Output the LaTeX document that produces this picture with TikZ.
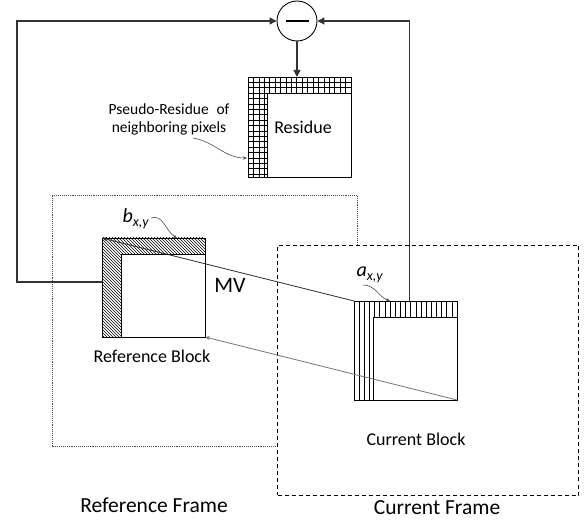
\documentclass[tikz,border=0pt]{standalone}
\usepackage{fontspec}
\setmainfont{Carlito}
\usetikzlibrary{positioning, patterns, arrows.meta}

\tikzset{
  blockbox/.style={draw, rectangle, line width=0.9pt, inner sep=0pt, outer sep=0pt, anchor=north west},
  feed/.style={line width=1.2pt, black!80},
  tip/.style={-{Triangle[length=7pt, width=7pt]}},
  lbl/.style={inner sep=0pt, anchor=base, font=\fontsize{18}{21}\selectfont},
  big/.style={inner sep=0pt, anchor=base, font=\fontsize{21.5}{24}\selectfont},
  pointer/.style={black!70, line width=0.6pt, -{Stealth[length=4pt, width=3.5pt]}},
}

\begin{document}
\begin{tikzpicture}[x=1pt, y=1pt]
    \useasboundingbox (0,0) rectangle (585,521);

    % frames
    \node (refFrame) [draw=black!70, densely dotted, line width=1.1pt, minimum width=305pt, minimum height=251pt, inner sep=0pt, anchor=north west] at (52,326) {};
    \node (curFrame) [draw, fill=white, dash pattern=on 4pt off 3pt, line width=1pt, minimum width=301pt, minimum height=250pt, inner sep=0pt, anchor=north west] at (277,276) {};

    % subtractor
    \node (minus) [draw, circle, line width=0.9pt, minimum size=40pt, inner sep=0pt] at (297,500) {\rule{23pt}{1.2pt}};

    % residue with its pixel grid
    \node (resOuter) [blockbox, minimum width=103pt, minimum height=100pt] at (248,444) {};
    \begin{scope}
        \clip (resOuter.south west) rectangle (resOuter.north east);
        \foreach \k in {1,...,18} \draw[line width=0.6pt] (248+\k*5.42,344) -- ++(0,100);
        \foreach \k in {1,...,18} \draw[line width=0.6pt] (248,444-\k*5.4) -- ++(103,0);
    \end{scope}
    \node (resInner) [blockbox, fill=white, minimum width=84pt, minimum height=84pt] at (267,428) {};
    \node (resText) [lbl] at (303,387) {Residue};
    \draw[feed, tip] (minus.south) -- (minus.south |- resOuter.north);

    % reference block
    \node (refOuter) [blockbox, pattern=north west lines, minimum width=103pt, minimum height=99pt] at (102,283) {};
    \node (refInner) [blockbox, fill=white, minimum width=84pt, minimum height=83pt] at (121,267) {};

    % current block
    \node (curOuter) [blockbox, minimum width=103pt, minimum height=99pt] at (354,220) {};
    \foreach \k in {1,...,19} \draw[line width=0.6pt] (354+\k*5.15,121) -- ++(0,99);
    \node (curInner) [blockbox, fill=white, minimum width=84pt, minimum height=83pt] at (373,204) {};

    % feedback into the subtractor
    \coordinate (refTap) at ([yshift=5.5pt]refOuter.west);
    \coordinate (curTap) at ([xshift=4pt]curOuter.north);
    \draw[feed, tip] (refTap) -- (17,239) |- (minus);
    \draw[feed, tip] (curTap) |- (minus);

    % motion vector
    \draw[black!85, line width=0.8pt, -{Stealth[length=5pt, width=4pt]}] (curOuter.north west) -- (refOuter.north west);
    \draw[black!55, line width=0.8pt, -{Stealth[length=5pt, width=4pt]}] (curOuter.south east) -- (refOuter.south east);
    \node (mvText) [lbl, font=\fontsize{22}{24}\selectfont] at (230,228) {MV};

    % labels
    \node (refBlockText) [lbl] at (152,158) {Reference Block};
    \node (curBlockText) [lbl] at (416,75) {Current Block};
    \node (refFrameText) [big] at (154,9) {Reference Frame};
    \node (curFrameText) [big] at (437,6) {Current Frame};

    \node (pseudoText) [inner sep=0pt, align=center, anchor=north, font=\fontsize{15.5}{17.5}\selectfont] at (169,417) {Pseudo-Residue\hspace{0.5em}of\\neighboring pixels};
    \node (bText) [inner sep=0pt, anchor=base, font=\fontsize{20}{22}\selectfont] at (136,298) {\textit{b}\textsubscript{\textit{x,y}}};
    \node (aText) [inner sep=0pt, anchor=base, font=\fontsize{20}{22}\selectfont] at (370,244) {\textit{a}\textsubscript{\textit{x,y}}};

    % pointers from labels
    \coordinate (pFrom) at (193,383);
    \coordinate (pTo) at (247,363);
    \draw[pointer] (pFrom) to[out=-10, in=180] (pTo);
    \coordinate (bFrom) at (151,303);
    \coordinate (bTo) at (177,283);
    \draw[pointer] (bFrom) to[out=20, in=150] (bTo);
    \coordinate (aFrom) at (363,236);
    \coordinate (aTo) at (390,220);
    \draw[pointer] (aFrom) to[out=0, in=160] (aTo);
\end{tikzpicture}
\end{document}
